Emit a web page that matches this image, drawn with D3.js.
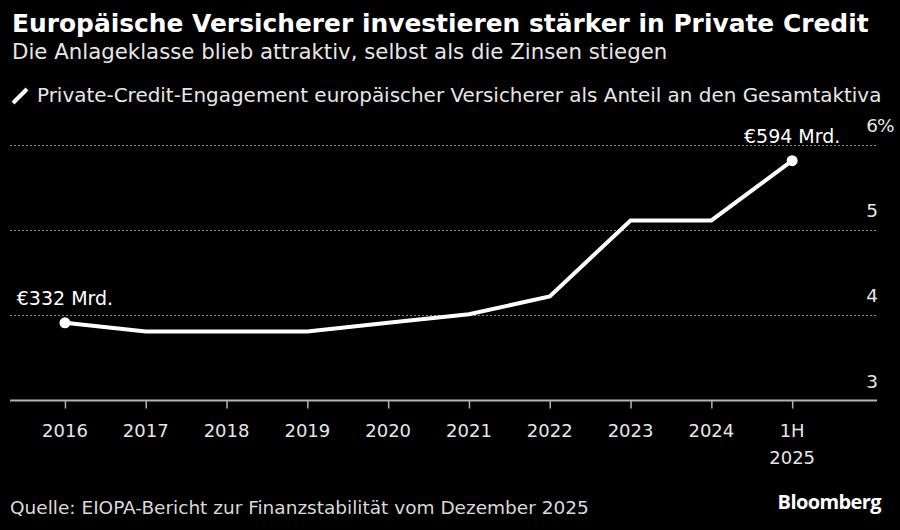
<!DOCTYPE html>
<html>
<head>
<meta charset="utf-8">
<script src="https://cdn.jsdelivr.net/npm/d3@7"></script>
<style>
  body { margin: 0; background: #000; }
  svg { display: block; }
  text { font-family: "DejaVu Sans", "Noto Sans", sans-serif; fill: #fff; }
</style>
</head>
<body>
<div id="chart"></div>
<script>
// Chart data
const periods = ["2016", "2017", "2018", "2019", "2020", "2021", "2022", "2023", "2024", "1H 2025"];
const shares = [3.91, 3.81, 3.81, 3.81, 3.91, 4.01, 4.22, 5.11, 5.11, 5.81];
const yTicks = [3, 4, 5, 6];
const annotations = [
  { index: 0, text: "€332 Mrd." },
  { index: 9, text: "€594 Mrd." }
];

const W = 900, H = 530;

const svg = d3.select("#chart")
  .append("svg")
  .attr("width", W)
  .attr("height", H);

svg.append("rect").attr("width", W).attr("height", H).attr("fill", "#000");

// Title block
svg.append("text")
  .attr("x", 12).attr("y", 31.5)
  .style("font-size", "24.9px")
  .style("font-weight", "700")
  .text("Europäische Versicherer investieren stärker in Private Credit");

svg.append("text")
  .attr("x", 12).attr("y", 59)
  .style("font-size", "21.3px")
  .style("fill", "#e6e6e6")
  .text("Die Anlageklasse blieb attraktiv, selbst als die Zinsen stiegen");

// Legend
svg.append("line")
  .attr("x1", 13).attr("y1", 103).attr("x2", 27).attr("y2", 89)
  .attr("stroke", "#fff").attr("stroke-width", 4).attr("stroke-linecap", "butt");

svg.append("text")
  .attr("x", 37).attr("y", 102)
  .style("font-size", "19.95px")
  .style("fill", "#e6e6e6")
  .text("Private-Credit-Engagement europäischer Versicherer als Anteil an den Gesamtaktiva");

// Scales: index based x so the axis can run past the first and last period
const x = d3.scaleLinear()
  .domain([-0.68, 10.05])
  .range([10, 877]);

const y = d3.scaleLinear()
  .domain([3, 6])
  .range([400.5, 144.5]);

// Dotted gridlines (skip the baseline)
svg.append("g")
  .selectAll("line")
  .data(yTicks.filter(d => d > 3))
  .enter()
  .append("line")
  .attr("x1", x.range()[0]).attr("x2", x.range()[1])
  .attr("y1", d => Math.round(y(d)) + 0.5)
  .attr("y2", d => Math.round(y(d)) + 0.5)
  .attr("stroke", "#8a8a8a")
  .attr("stroke-width", 1.2)
  .attr("stroke-dasharray", "2,2");

// Y labels on the right, above their gridline
const yLab = svg.append("g")
  .selectAll("g")
  .data(yTicks)
  .enter()
  .append("g")
  .attr("transform", d => `translate(878,${y(d) - 13})`);

yLab.append("text")
  .attr("text-anchor", "end")
  .style("font-size", "18.5px")
  .style("fill", "#e6e6e6")
  .text(d => d);

yLab.filter(d => d === 6)
  .append("text")
  .attr("x", -1)
  .style("font-size", "18.5px")
  .style("fill", "#e6e6e6")
  .text("%");

// X axis
const xAxis = d3.axisBottom(x)
  .tickValues(d3.range(periods.length))
  .tickSize(8)
  .tickFormat("");

const gx = svg.append("g")
  .attr("transform", `translate(0,${y(3)})`)
  .call(xAxis);
gx.select(".domain").attr("stroke", "#b3b3b3").attr("stroke-width", 2).attr("d", `M${x.range()[0]},0H${x.range()[1]}`);
gx.selectAll(".tick line").attr("stroke", "#b3b3b3").attr("stroke-width", 1.5);

// X labels, wrapped on space for "1H 2025"
svg.append("g")
  .selectAll("text")
  .data(periods)
  .enter()
  .append("text")
  .attr("text-anchor", "middle")
  .style("font-size", "18px")
  .style("fill", "#e6e6e6")
  .each(function (d, i) {
    const parts = d.split(" ");
    parts.forEach((p, j) => {
      d3.select(this).append("tspan")
        .attr("x", x(i))
        .attr("y", 437 + j * 27)
        .text(p);
    });
  });

// Line
const line = d3.line()
  .x((d, i) => x(i))
  .y(d => y(d));

svg.append("path")
  .datum(shares)
  .attr("fill", "none")
  .attr("stroke", "#fff")
  .attr("stroke-width", 4)
  .attr("stroke-linejoin", "miter")
  .attr("d", line);

// End points and labels
svg.selectAll(".dot")
  .data(annotations)
  .enter()
  .append("circle")
  .attr("class", "dot")
  .attr("cx", d => x(d.index))
  .attr("cy", d => y(shares[d.index]))
  .attr("r", 5.5)
  .attr("fill", "#fff");

svg.selectAll(".ann")
  .data(annotations)
  .enter()
  .append("text")
  .attr("class", "ann")
  .attr("x", d => x(d.index))
  .attr("y", d => y(shares[d.index]) - 18)
  .attr("text-anchor", "middle")
  .style("font-size", "19px")
  .text(d => d.text);

// Footer
svg.append("text")
  .attr("x", 10).attr("y", 514)
  .style("font-size", "18.5px")
  .style("fill", "#d9d9d9")
  .text("Quelle: EIOPA-Bericht zur Finanzstabilität vom Dezember 2025");

svg.append("text")
  .attr("x", 881).attr("y", 509)
  .attr("text-anchor", "end")
  .style("font-family", "'Open Sans', sans-serif")
  .style("font-size", "20px")
  .style("font-weight", "700")
  .style("letter-spacing", "-0.6px")
  .text("Bloomberg");
</script>
</body>
</html>
